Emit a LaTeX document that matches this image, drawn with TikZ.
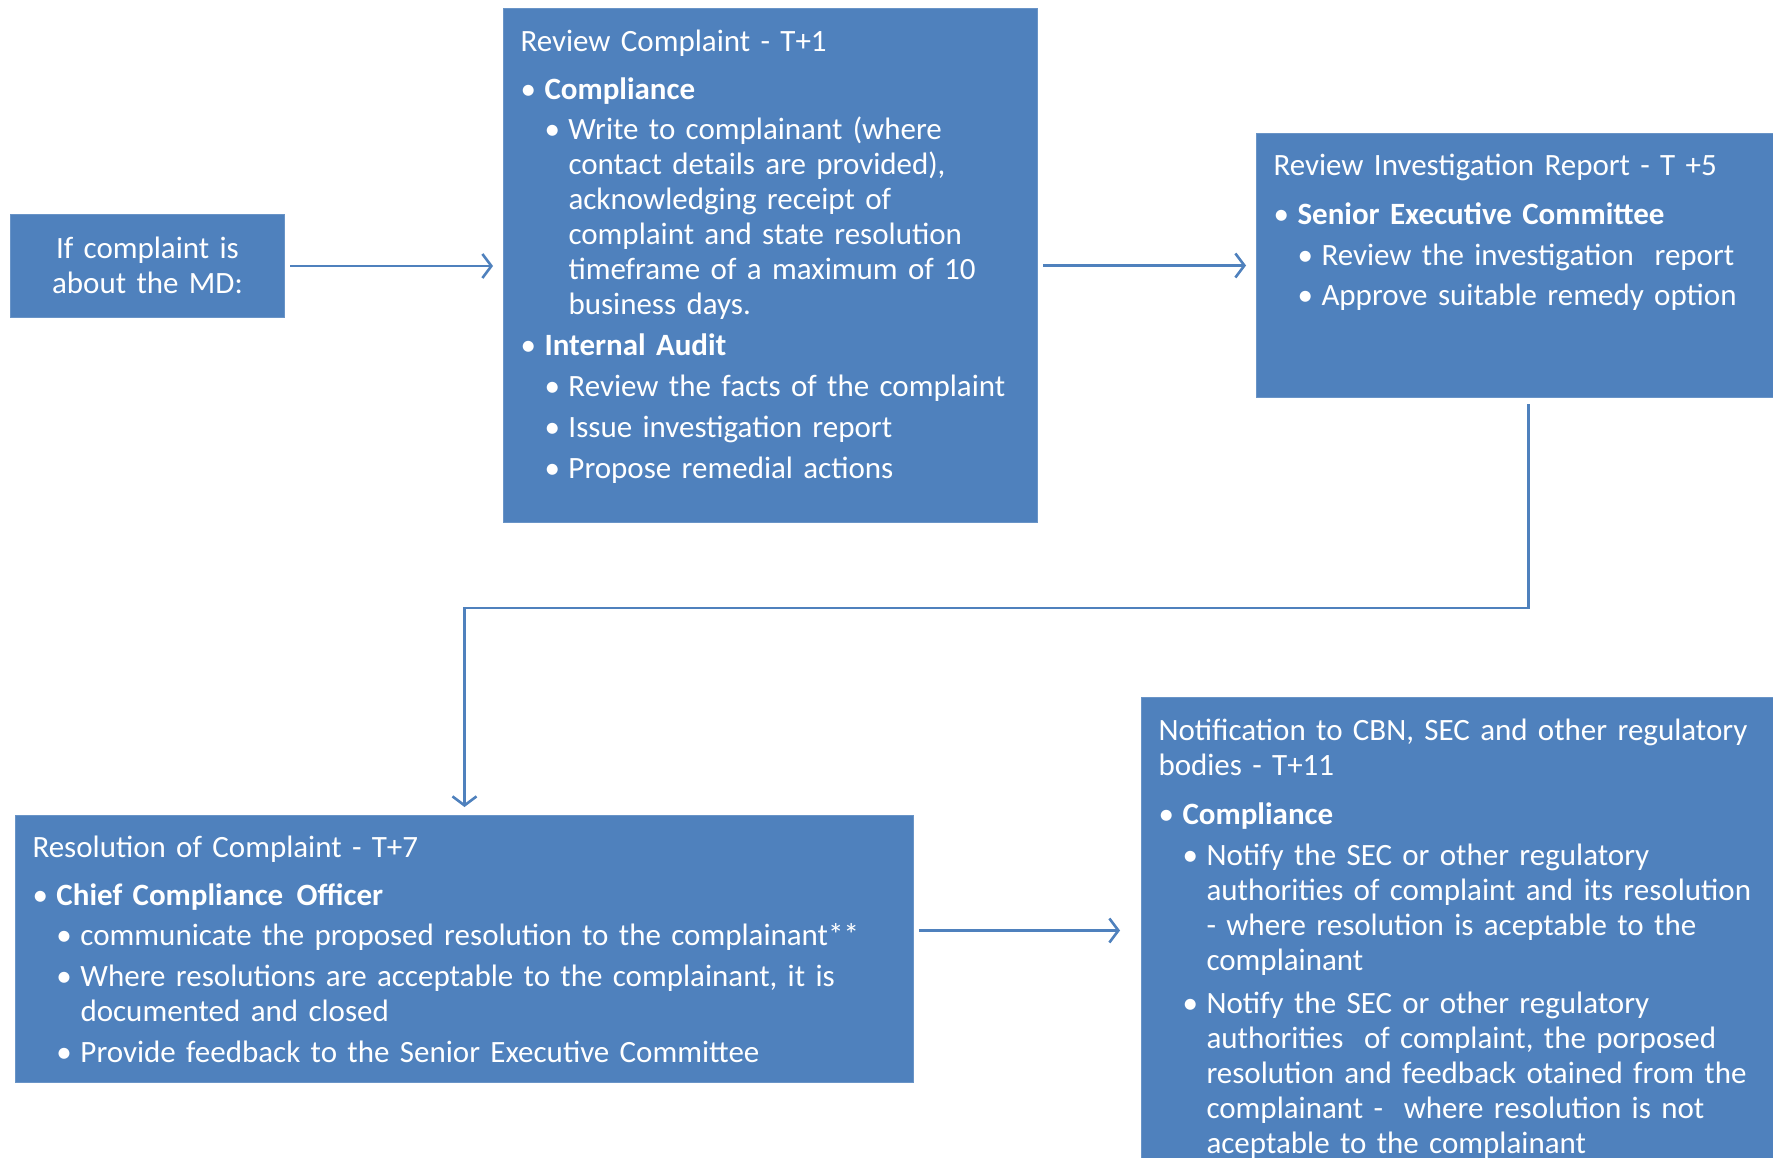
\documentclass[tikz,border=0pt]{standalone}
\definecolor{boxBlue}{HTML}{4F81BD}
\definecolor{lineBlue}{HTML}{4F81BD}
\usepackage{fontspec}
\setmainfont{Carlito}
\usetikzlibrary{calc, positioning, arrows.meta}
\newcommand{\ia}[1]{\makebox[24pt][l]{\textbullet}\textbf{#1}}
\newcommand{\ib}[1]{\hspace*{24pt}\makebox[24pt][l]{\textbullet}#1}
\newcommand{\ic}[1]{\hspace*{48pt}#1}

\begin{document}
\begin{tikzpicture}
		[x=1pt, y=-1pt,
		block/.style ={rectangle, draw=boxBlue!85!white, line width=1pt, fill=boxBlue, text=white, anchor=north west, inner xsep=17pt, inner ysep=0pt, align=left, font=\fontsize{31}{35}\selectfont},
		block2/.style ={block, align=center},
		arr/.style ={-{Straight Barb[length=9pt, width=24pt]}, lineBlue, line width=2.6pt}]
		\useasboundingbox (0,0) rectangle (1773,1158);
		\clip (0,0) rectangle (1773,1158);

		\draw (10,214) node[block2, text width=240pt, text height=44pt, text depth=59pt] (md) {If complaint is\\about the MD:};

		\draw (503,8) node[block, text width=500pt, text height=43pt, text depth=471pt] (rc) {Review Complaint - T+1\\[13pt]
			\ia{Compliance}\\[5pt]
			\ib{Write to complainant (where}\\
			\ic{contact details are provided),}\\
			\ic{acknowledging receipt of}\\
			\ic{complaint and state resolution}\\
			\ic{timeframe of a maximum of 10}\\
			\ic{business days.}\\[6pt]
			\ia{Internal Audit}\\[6pt]
			\ib{Review the facts of the complaint}\\[6pt]
			\ib{Issue investigation report}\\[6pt]
			\ib{Propose remedial actions}};

		\draw (1256,133) node[block, text width=510pt, text height=42pt, text depth=222pt] (ri) {Review Investigation Report - T +5\\[14pt]
			\ia{Senior Executive Committee}\\[6pt]
			\ib{Review the investigation\ \ report}\\[5pt]
			\ib{Approve suitable remedy option}};

		\draw (15,815) node[block, text width=864pt, text height=42pt, text depth=225pt] (res) {Resolution of Complaint - T+7\\[13pt]
			\ia{Chief Compliance\hspace{3pt} Officer}\\[5pt]
			\ib{communicate the proposed resolution to the complainant**}\\[6pt]
			\ib{Where resolutions are acceptable to the complainant, it is}\\
			\ic{documented and closed}\\[6pt]
			\ib{Provide feedback to the Senior Executive Committee}};

		\draw (1141,697) node[block, text width=626pt, text height=43pt, text depth=437pt] (note) {Notification to CBN, SEC and other regulatory\\
			bodies - T+11\\[14pt]
			\ia{Compliance}\\[6pt]
			\ib{Notify the SEC or other regulatory}\\
			\ic{authorities of complaint and its resolution}\\
			\ic{- where resolution is aceptable to the}\\
			\ic{complainant}\\[8pt]
			\ib{Notify the SEC or other regulatory}\\
			\ic{authorities\ \ of complaint, the porposed}\\
			\ic{resolution and feedback otained from the}\\
			\ic{complainant -\ \ where resolution is not}\\
			\ic{aceptable to the complainant}};

		\coordinate (turn) at (0,608);

		\draw (md.east) edge [arr, shorten <=5pt, shorten >=10pt] (md.east -| rc.west);
		\draw (rc.east) edge [arr, shorten <=5pt, shorten >=10pt] (rc.east -| ri.west);
		\draw[arr, shorten <=6pt, shorten >=8pt] (ri.south) -- (ri.south |- turn) -| (res.north);
		\draw ($(res.east)+(0,-18.5)$) edge [arr, shorten <=5pt, shorten >=21pt] ($(res.east -| note.west)+(0,-18.5)$);

	\end{tikzpicture}
\end{document}
